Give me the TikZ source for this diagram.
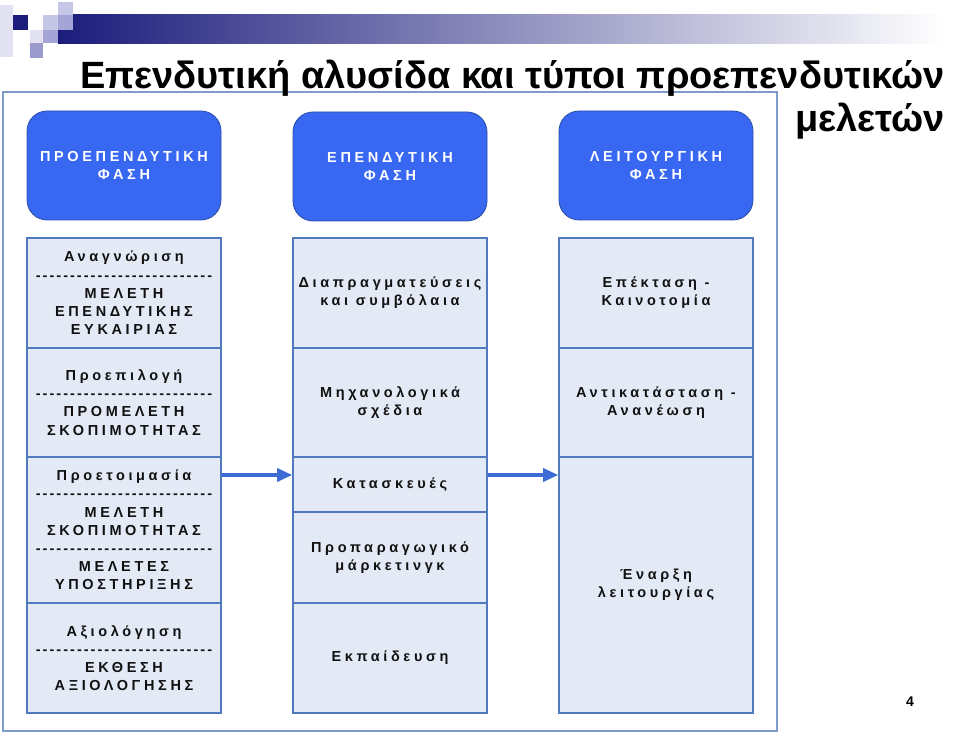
\documentclass[tikz,border=0pt]{standalone}
\usepackage{fontspec}
\setmainfont{Liberation Sans}
\newfontfamily\cellfnt[LetterSpace=25]{Liberation Sans Bold}
\newfontfamily\dashfnt[LetterSpace=14,Ligatures=TeXOff]{Liberation Sans Bold}
\newfontfamily\titlefnt{Liberation Sans Bold}
\usetikzlibrary{arrows.meta}
\definecolor{hdrblue}{HTML}{3867F2}
\definecolor{hdrline}{HTML}{2B4FA8}
\definecolor{cellfill}{HTML}{E4EAF5}
\definecolor{cellline}{HTML}{5079BE}
\definecolor{frameline}{HTML}{7E9CCB}
\definecolor{arrblue}{HTML}{3C6BD5}
\definecolor{navy}{HTML}{1C1C7C}
\definecolor{textdark}{HTML}{111111}
\definecolor{lavA}{HTML}{E2E2F2}
\definecolor{lavB}{HTML}{C6C6E6}
\definecolor{lavC}{HTML}{A4A4D6}
\definecolor{lavD}{HTML}{9A9ACC}
\newcommand\dashrow{{\dashfnt --------------------------}}
\begin{document}
\begin{tikzpicture}[x=1pt,y=-1pt,
  hdr/.style={draw=hdrline, line width=0.8pt, fill=hdrblue, rounded corners=20pt,
    minimum width=194pt, minimum height=109pt, inner sep=0pt, align=center,
    text=white, font=\cellfnt\fontsize{14.5}{18.2}\selectfont},
  cell/.style={draw=cellline, line width=1.6pt, fill=cellfill, minimum width=194pt,
    inner sep=0pt, align=center, text=textdark,
    font=\cellfnt\fontsize{14.5}{18.2}\selectfont},
  arr/.style={draw=arrblue, line width=3.2pt, -{Triangle[length=15pt,width=13pt]}}]

\useasboundingbox (0,0) rectangle (960,735);
\fill[white] (0,0) rectangle (960,735);

% logo
\shade[left color=navy, right color=white] (58,15) rectangle (945,44);
\fill[lavA] (0,5) rectangle (13,57);
\fill[navy] (13,15) rectangle (28,30);
\fill[lavB] (43,15) rectangle (58,30);
\fill[lavB] (58,2) rectangle (73,15);
\fill[lavC] (58,15) rectangle (73,30);
\fill[lavA] (30,30) rectangle (43,43);
\fill[lavC] (43,30) rectangle (58,43);
\fill[lavD] (30,43) rectangle (43,58);

% outer frame
\draw[frameline, line width=1.4pt] (3,92) rectangle (777,731);

% title
\node[anchor=base east, inner sep=0pt, text=black, font=\titlefnt\fontsize{38}{42}\selectfont] (t1) at (945,89) {Επενδυτική αλυσίδα και τύποι προεπενδυτικών};
\node[anchor=base east, inner sep=0pt, text=black, font=\titlefnt\fontsize{38}{42}\selectfont] (t2) at (945,132) {μελετών};

% headers
\node[hdr] (h1) at (124,165.5) {ΠΡΟΕΠΕΝΔΥΤΙΚΗ\\ΦΑΣΗ};
\node[hdr] (h2) at (390,166.5) {ΕΠΕΝΔΥΤΙΚΗ\\ΦΑΣΗ};
\node[hdr] (h3) at (656,165.5) {ΛΕΙΤΟΥΡΓΙΚΗ\\ΦΑΣΗ};

% column 1
\node[cell, minimum height=110pt] (a1) at (124,293) {Αναγνώριση\\\dashrow\\ΜΕΛΕΤΗ\\ΕΠΕΝΔΥΤΙΚΗΣ\\ΕΥΚΑΙΡΙΑΣ};
\node[cell, minimum height=109pt] (a2) at (124,402.5) {Προεπιλογή\\\dashrow\\ΠΡΟΜΕΛΕΤΗ\\ΣΚΟΠΙΜΟΤΗΤΑΣ};
\node[cell, minimum height=146pt] (a3) at (124,530) {Προετοιμασία\\\dashrow\\ΜΕΛΕΤΗ\\ΣΚΟΠΙΜΟΤΗΤΑΣ\\\dashrow\\ΜΕΛΕΤΕΣ\\ΥΠΟΣΤΗΡΙΞΗΣ};
\node[cell, minimum height=110pt] (a4) at (124,658) {Αξιολόγηση\\\dashrow\\ΕΚΘΕΣΗ\\ΑΞΙΟΛΟΓΗΣΗΣ};

% column 2
\node[cell, minimum height=110pt] (b1) at (390,293) {Διαπραγματεύσεις\\και συμβόλαια};
\node[cell, minimum height=109pt] (b2) at (390,402.5) {Μηχανολογικά\\σχέδια};
\node[cell, minimum height=55pt] (b3) at (390,484.5) {Κατασκευές};
\node[cell, minimum height=91pt] (b4) at (390,557.5) {Προπαραγωγικό\\μάρκετινγκ};
\node[cell, minimum height=110pt] (b5) at (390,658) {Εκπαίδευση};

% column 3
\node[cell, minimum height=110pt] (c1) at (656,293) {Επέκταση -\\Καινοτομία};
\node[cell, minimum height=109pt] (c2) at (656,402.5) {Αντικατάσταση -\\Ανανέωση};
\node[cell, minimum height=256pt] (c3) at (656,585) {Έναρξη\\λειτουργίας};

% arrows
\draw[arr] ([yshift=55pt]a3.east) -- ([yshift=9.5pt]b3.west);
\draw[arr] ([yshift=9.5pt]b3.east) -- ([yshift=110pt]c3.west);

% page number
\node[font=\titlefnt\fontsize{14}{16}\selectfont, text=black] (pg) at (910,702) {4};
\end{tikzpicture}
\end{document}
